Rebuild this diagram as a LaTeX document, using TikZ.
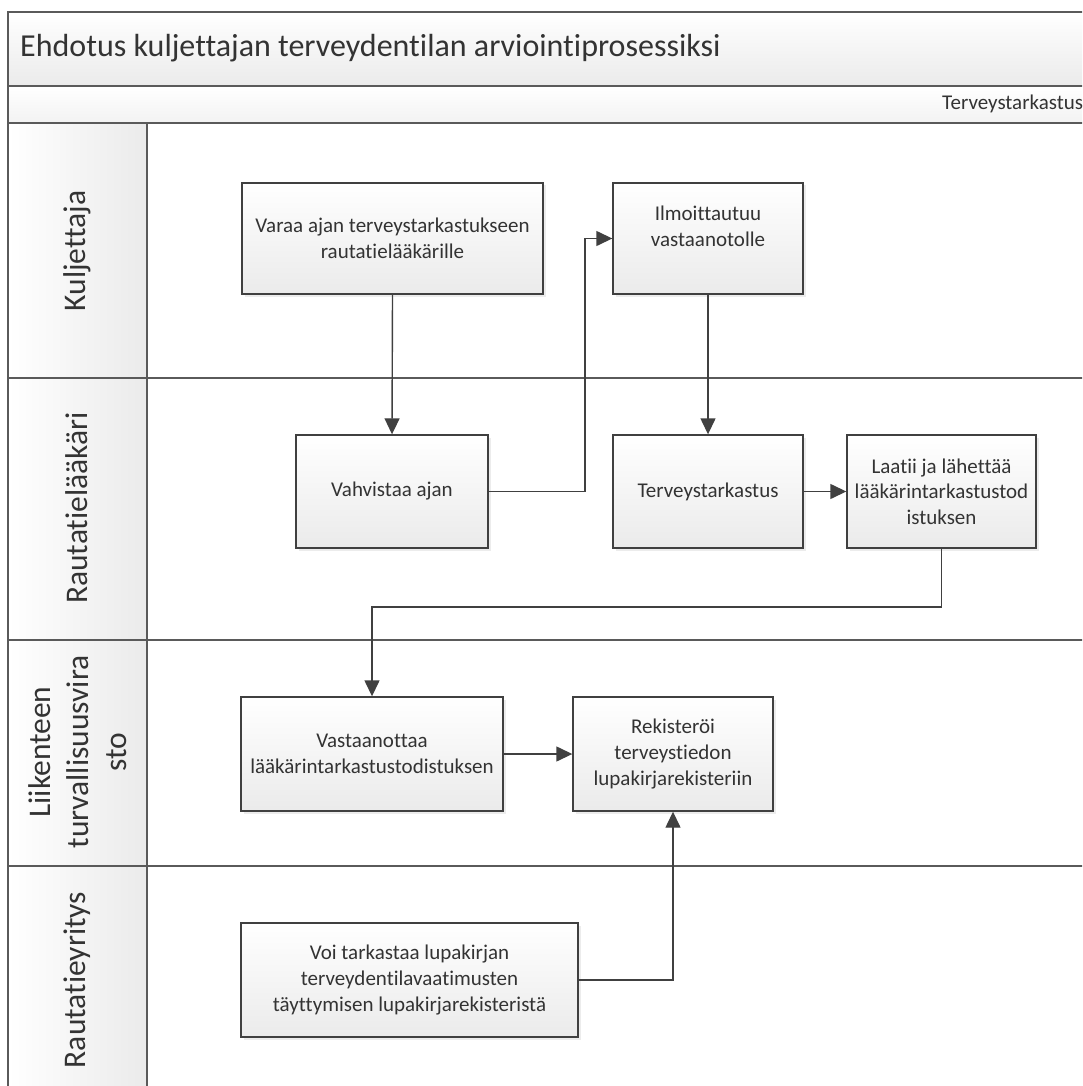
\documentclass[tikz,border=0pt]{standalone}
\usepackage{fontspec}
\setmainfont{Carlito}[Ligatures=NoCommon]
\usetikzlibrary{arrows.meta,shadows}
\definecolor{ln}{HTML}{404040}
\definecolor{frm}{HTML}{5A5A5A}
\definecolor{txt}{HTML}{333333}
\begin{document}
\begin{tikzpicture}[x=1pt,y=-1pt,
  procbox/.style={draw=ln,line width=1.4pt,top color=white,bottom color=black!8,
    drop shadow={shadow xshift=2.5pt,shadow yshift=-2.5pt,opacity=0.15},
    align=center,text=txt,font=\fontsize{21}{25.6}\selectfont,inner sep=2pt},
  boxtext/.style={align=center,text=txt,font=\fontsize{21}{25.6}\selectfont,inner sep=0pt},
  flow/.style={draw=ln,line width=1.4pt,-{Triangle[length=16pt,width=15pt]}},
  frameline/.style={draw=frm,line width=1.6pt},
  lanelabel/.style={rotate=90,align=center,text=txt,font=\fontsize{31.5}{38}\selectfont,inner sep=0pt}]

\clip (0,0) rectangle (1082,1086);
\fill[white] (0,0) rectangle (1082,1086);

% bands
\path[top color=white,bottom color=black!8] (8,12) rectangle (1100,86);
\path[top color=white,bottom color=black!5] (8,86) rectangle (1100,123);
\path[left color=white,right color=black!8] (8,123) rectangle (147,1100);

% frame lines
\draw[frameline] (1100,12) -- (8,12) -- (8,1100);
\draw[frameline] (8,86) -- (1100,86);
\draw[frameline] (8,123) -- (1100,123);
\draw[frameline] (147,123) -- (147,1100);
\draw[frameline] (8,378) -- (1100,378);
\draw[frameline] (8,640) -- (1100,640);
\draw[frameline] (8,866) -- (1100,866);

% texts in bands
\node[anchor=base west,font=\fontsize{32}{38}\selectfont,text=txt,inner sep=0pt] (title) at (20,57)
  {Ehdotus kuljettajan terveydentilan arviointiprosessiksi};
\node[anchor=base west,font=\fontsize{21}{25}\selectfont,text=txt,inner sep=0pt] (phase) at (942,110)
  {Terveystarkastus};

% lane labels
\node[lanelabel] (l1) at (77,251) {Kuljettaja};
\node[lanelabel] (l2) at (77,508) {Rautatielääkäri};
\node[lanelabel] (l3) at (78,752) {Liikenteen\\turvallisuusvira\\sto};
\node[lanelabel] (l4) at (77,980) {Rautatieyritys};

% process boxes
\node[procbox,minimum width=301pt,minimum height=111pt] (b1) at (392.5,238.5)
  {Varaa ajan terveystarkastukseen\\rautatielääkärille};
\node[procbox,minimum width=190pt,minimum height=111pt] (b2) at (708,238.5) {};
\node[boxtext] (b2t) at (708,226) {Ilmoittautuu\\vastaanotolle};
\node[procbox,minimum width=192pt,minimum height=113pt] (b3) at (392,491.5) {Vahvistaa ajan};
\node[procbox,minimum width=190pt,minimum height=113pt] (b4) at (708,491.5) {Terveystarkastus};
\node[procbox,minimum width=189pt,minimum height=113pt] (b5) at (941.5,491.5)
  {Laatii ja lähettää\\lääkärintarkastustod\\istuksen};
\node[procbox,minimum width=262pt,minimum height=114pt] (b6) at (372,754)
  {Vastaanottaa\\lääkärintarkastustodistuksen};
\node[procbox,minimum width=200pt,minimum height=114pt] (b7) at (673,754)
  {Rekisteröi\\terveystiedon\\lupakirjarekisteriin};
\node[procbox,minimum width=337pt,minimum height=114pt] (b8) at (409.5,980)
  {Voi tarkastaa lupakirjan\\terveydentilavaatimusten\\täyttymisen lupakirjarekisteristä};

% connectors
\coordinate (c1) at (585,491.5);
\coordinate (c2) at (941.5,607);
\draw[flow] (b1.south) -- (b3.north);
\draw[flow] (b3.east) -- (c1) |- (b2.west);
\draw[flow] (b2.south) -- (b4.north);
\draw[flow] (b4.east) -- (b5.west);
\draw[flow] (b5.south) -- (c2) -| (b6.north);
\draw[flow] (b6.east) -- (b7.west);
\draw[flow] (b8.east) -| (b7.south);
\end{tikzpicture}
\end{document}
